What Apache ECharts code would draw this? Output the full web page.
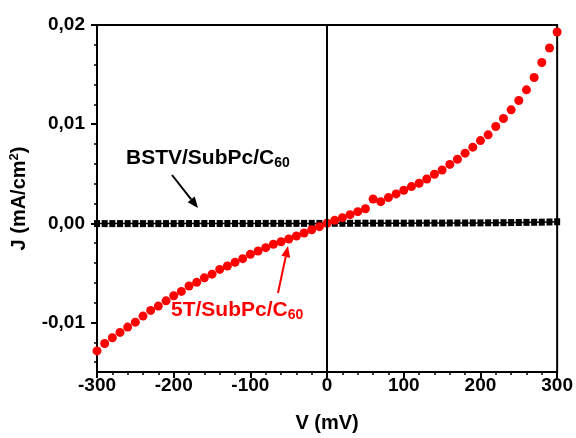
<!DOCTYPE html>
<html>
<head>
<meta charset="utf-8">
<script src="https://cdn.jsdelivr.net/npm/echarts@6/dist/echarts.min.js"></script>
<style>html,body{margin:0;padding:0;background:#fff}#c{width:576px;height:438px}</style>
</head>
<body>
<div id="c"></div>
<script>
const voltage = [-300,-290,-280,-270,-260,-250,-240,-230,-220,-210,-200,-190,-180,-170,-160,-150,-140,-130,-120,-110,-100,-90,-80,-70,-60,-50,-40,-30,-20,-10,0,10,20,30,40,50,60,70,80,90,100,110,120,130,140,150,160,170,180,190,200,210,220,230,240,250,260,270,280,290,300];
const j5T = [-0.01287,-0.01212,-0.01155,-0.01101,-0.01047,-0.00997,-0.00936,-0.00879,-0.00835,-0.00782,
  -0.00731,-0.00687,-0.00633,-0.00596,-0.00550,-0.00513,-0.00465,-0.00431,-0.00394,-0.00357,
  -0.00313,-0.00280,-0.00246,-0.00212,-0.00186,-0.00159,-0.00128,-0.00098,-0.00065,-0.00034,
  0.00000,0.00030,0.00057,0.00087,0.00117,0.00147,0.00245,0.00218,0.00259,0.00296,
  0.00333,0.00370,0.00404,0.00447,0.00495,0.00538,0.00594,0.00646,0.00707,0.00768,
  0.00834,0.00892,0.00976,0.01057,0.01144,0.01238,0.01346,0.01471,0.01622,0.01768,0.01929];
const jBSTV = [-0.00003,-0.00003,-0.00003,-0.00003,-0.00003,-0.00003,-0.00003,-0.00003,-0.00003,-0.00003,
  -0.00003,-0.00002,-0.00002,-0.00002,-0.00002,-0.00002,-0.00002,-0.00002,-0.00002,-0.00002,
  -0.00002,-0.00002,-0.00001,-0.00001,-0.00001,-0.00001,-0.00001,-0.00001,-0.00001,-0.00001,
  0.00000,0.00000,0.00000,0.00000,0.00000,0.00001,0.00001,0.00001,0.00001,0.00001,
  0.00001,0.00001,0.00002,0.00002,0.00002,0.00002,0.00003,0.00003,0.00003,0.00004,
  0.00004,0.00005,0.00005,0.00006,0.00007,0.00008,0.00009,0.00010,0.00011,0.00013,0.00015];
const yMajorTicks = [-0.01, 0, 0.01, 0.02];
const yMinorTicks = [-0.014,-0.012,-0.008,-0.006,-0.004,-0.002,0.002,0.004,0.006,0.008,0.012,0.014,0.016,0.018];
const seriesNames = ['BSTV/SubPc/C60', '5T/SubPc/C60'];

const FONT = '"Liberation Sans", Arial, sans-serif';
const chart = echarts.init(document.getElementById('c'), null, {renderer: 'canvas'});

function arrow(x1, y1, x2, y2, color) {
  const ang = Math.atan2(y2 - y1, x2 - x1);
  const L = 11, W = 4.5;
  const bx = x2 - L * Math.cos(ang), by = y2 - L * Math.sin(ang);
  const px = -Math.sin(ang), py = Math.cos(ang);
  return [
    {type: 'line', shape: {x1: x1, y1: y1, x2: bx, y2: by}, style: {stroke: color, lineWidth: 2}, z: 100},
    {type: 'polygon', shape: {points: [[x2, y2], [bx + px * W, by + py * W], [bx - px * W, by - py * W]]}, style: {fill: color}, z: 100}
  ];
}

const option = {
  backgroundColor: '#fff',
  animation: false,
  textStyle: {fontFamily: FONT},
  grid: {left: 95, right: 17, top: 25, bottom: 65, show: true, borderColor: '#000', borderWidth: 2, backgroundColor: 'transparent'},
  xAxis: {
    type: 'value', min: -300, max: 300, interval: 100,
    name: 'V (mV)', nameLocation: 'middle', nameGap: 41,
    nameTextStyle: {color: '#000', fontSize: 20, fontWeight: 'bold', fontFamily: FONT},
    axisLine: {onZero: false, lineStyle: {color: '#000', width: 2}},
    axisTick: {inside: false, length: 6, lineStyle: {color: '#000', width: 2}},
    minorTick: {show: true, splitNumber: 5, length: 3, lineStyle: {color: '#000', width: 1.5}},
    axisLabel: {color: '#000', fontSize: 19, fontWeight: 'bold', fontFamily: FONT, margin: 4},
    splitLine: {show: false}
  },
  yAxis: [{
    type: 'value', min: -0.015, max: 0.02,
    name: 'J (mA/cm{sup|2})', nameLocation: 'middle', nameGap: 66,
    nameTextStyle: {color: '#000', fontSize: 20, fontWeight: 'bold', fontFamily: FONT,
      rich: {sup: {fontSize: 13, fontWeight: 'bold', color: '#000', fontFamily: FONT, padding: [0, 0, 10, 0]}}},
    axisLine: {onZero: false, lineStyle: {color: '#000', width: 2}},
    axisTick: {inside: false, length: 6, customValues: yMajorTicks, lineStyle: {color: '#000', width: 2}},
    axisLabel: {color: '#000', fontSize: 19, fontWeight: 'bold', fontFamily: FONT, margin: 12,
      customValues: yMajorTicks,
      formatter: v => (Math.abs(v) < 1e-9 ? 0 : v).toFixed(2).replace('.', ',')},
    splitLine: {show: false}
  }, {
    type: 'value', min: -0.015, max: 0.02, position: 'left',
    axisLine: {show: false, onZero: false},
    axisTick: {show: true, inside: false, length: 3, customValues: yMinorTicks, lineStyle: {color: '#000', width: 1.5}},
    axisLabel: {show: false},
    splitLine: {show: false}
  }],
  series: [{
    name: seriesNames[0], type: 'line',
    data: voltage.map((v, i) => [v, jBSTV[i]]),
    symbol: 'rect', symbolSize: [6, 7],
    lineStyle: {color: '#000', width: 1.5},
    itemStyle: {color: '#000'},
    z: 2,
    markLine: {
      silent: true, symbol: ['none', 'none'], label: {show: false},
      lineStyle: {color: '#000', width: 2, type: 'solid'},
      data: [{xAxis: 0}]
    }
  }, {
    name: seriesNames[1], type: 'scatter',
    data: voltage.map((v, i) => [v, j5T[i]]),
    symbol: 'circle', symbolSize: 9,
    itemStyle: {color: '#ff0000', opacity: 1},
    z: 3
  }],
  graphic: [
    {type: 'text', left: 126, top: 148, z: 100,
      style: {text: 'BSTV/SubPc/C{sub|60}', fill: '#000', font: 'bold 21px ' + FONT,
        rich: {sub: {fontSize: 14, fontWeight: 'bold', fill: '#000', fontFamily: FONT, padding: [10, 0, 0, 0]}}}},
    {type: 'text', left: 171, top: 300, z: 100,
      style: {text: '5T/SubPc/C{sub|60}', fill: '#ff0000', font: 'bold 21px ' + FONT,
        rich: {sub: {fontSize: 14, fontWeight: 'bold', fill: '#ff0000', fontFamily: FONT, padding: [10, 0, 0, 0]}}}},
    ...arrow(172, 175, 198, 208, '#000'),
    ...arrow(278, 293, 288, 246, '#ff0000')
  ]
};
chart.setOption(option);
</script>
</body>
</html>
